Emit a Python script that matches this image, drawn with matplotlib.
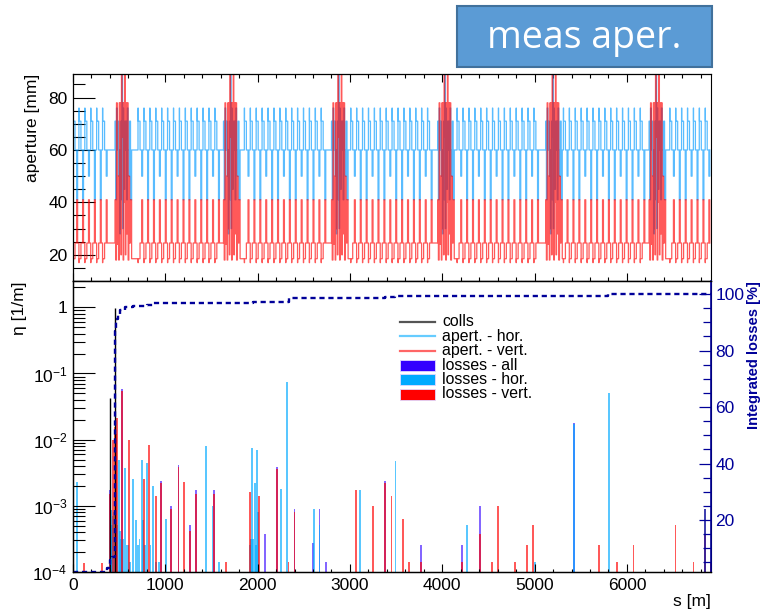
import numpy as np
import matplotlib
matplotlib.use('Agg')
import matplotlib.pyplot as plt
from matplotlib.patches import Rectangle
from matplotlib.lines import Line2D
from matplotlib.ticker import MultipleLocator, FixedLocator, FuncFormatter, NullFormatter

plt.rcParams['font.family'] = ['Liberation Sans', 'DejaVu Sans']
plt.rcParams['mathtext.fontset'] = 'custom'
plt.rcParams['mathtext.rm'] = 'Liberation Sans'
plt.rcParams['mathtext.it'] = 'Liberation Sans:italic'
plt.rcParams['mathtext.bf'] = 'Liberation Sans:bold'

# ---------------- aperture (top panel) ----------------
ring_length = 6911.0
cell_length = 64.0
lss_centres = [545, 1720, 2890, 4040, 5210, 6330]
lss_half = 100.0

# one regular cell, three variants (offset in cell [m], aperture [mm])
cell_off = [0, 2, 22, 40, 50]
cell_hor = [[76, 71, 60, 41, 60], [76, 71, 60, 41, 60], [76, 71, 60, 50, 60]]
cell_ver = [[17, 18.5, 24.5, 41, 24.5], [17, 18.5, 24.5, 41, 24.5], [17, 18.5, 24.5, 41, 24.5]]

# long straight section profile (offset from centre [m], aperture [mm])
lss_off = [-100, -90, -82, -74, -66, -58, -50, -44, -38, -32, -26, -20, -14, -8,
           -2, 4, 10, 16, 22, 28, 36, 44, 52, 60, 68, 78, 90]
lss_ver = [24.5, 41, 18, 78, 24, 50, 18, 78, 30, 78, 20, 95, 65, 78, 18, 78, 40,
           95, 20, 78, 28, 78, 18, 50, 24.5, 41, 18.5]
lss_hor = [60, 71, 41, 76, 60, 71, 50, 60, 28, 60, 71, 41, 95, 30, 76, 60, 45, 71,
           60, 71, 41, 76, 60, 50, 71, 41, 60]

# ---------------- losses (bottom panel) ----------------
coll_s = [400, 460]
coll_eta = [0.042, 0.98]

all_s = [400, 535, 954, 1066, 1143, 1268, 1333, 1529, 2080, 2213, 2400, 2600, 2670,
         2745, 3378, 3770, 4214, 4413, 5428]
all_eta = [1.7e-3, 0.058, 2.4e-3, 1.0e-3, 4.2e-3, 5e-4, 1.7e-3, 1.7e-3, 3.6e-4, 3.9e-3,
           9e-4, 2.6e-4, 9e-4, 1.3e-4, 2.4e-3, 2.5e-4, 2.5e-4, 1.0e-3, 1.8e-2]

hor_s = [40, 405, 415, 425, 435, 445, 470, 480, 495, 505, 520, 540, 564, 580, 600, 620,
         650, 680, 700, 720, 745, 760, 780, 798, 840, 871, 900, 930, 1005, 1442, 1511,
         1580, 1915, 1925, 1940, 1950, 1970, 1985, 1995, 2003, 2253, 2318, 2612, 2670,
         3113, 3494, 4268, 5000, 5428, 5808]
hor_eta = [2.3e-3, 6e-4, 8.5e-4, 5e-4, 7e-4, 8e-4, 6e-4, 5e-4, 4.9e-3, 4e-4, 3e-4,
           3e-4, 3.7e-3, 2.5e-4, 2.5e-4, 1.3e-4, 2.5e-3, 6e-4, 2.5e-4, 3e-4, 5e-3, 6e-4,
           2.5e-4, 4.5e-3, 2.5e-4, 2e-3, 1.3e-4, 1.3e-4, 6.3e-4, 8e-3, 1e-3, 1.3e-4,
           2.5e-4, 3e-4, 7.5e-3, 3e-4, 2.2e-3, 2.5e-4, 7e-3, 8e-4, 1.8e-3, 0.075, 9e-4,
           5e-4, 1.7e-3, 4.7e-3, 5e-4, 1.3e-4, 1.75e-2, 0.05]

ver_s = [122, 310, 400, 430, 455, 465, 477, 535, 607, 770, 823, 896, 954, 1066, 1143,
         1205, 1268, 1333, 1529, 1660, 1913, 2017, 2213, 2335, 2400, 3070, 3250, 3378,
         3450, 3575, 3643, 3770, 4214, 4413, 4539, 4604, 4790, 4921, 4986, 5700, 5895,
         6072, 6527, 6722, 6843, 6908]
ver_eta = [1.26e-4, 1.26e-4, 1.5e-3, 1e-2, 1.55e-2, 1.2e-2, 0.021, 0.055, 1e-2, 2.5e-3,
           8.3e-3, 1.4e-3, 2.2e-3, 9e-4, 3.9e-3, 2.3e-3, 4e-4, 1.5e-3, 1.5e-3, 1.3e-4,
           1.6e-3, 1.4e-3, 3.6e-3, 1.3e-4, 8e-4, 1.7e-3, 1e-3, 2.2e-3, 1.4e-3, 6.3e-4,
           1.3e-4, 1.3e-4, 1.3e-4, 3.6e-4, 1.3e-4, 1e-3, 1.3e-4, 2.5e-4, 5e-4, 2.5e-4,
           1.3e-4, 2.5e-4, 5e-4, 1.3e-4, 3.6e-4, 1.3e-4]

navy_s = [6843]
navy_eta = [9e-4]

# integrated losses [%]
cum_s = [0, 365, 385, 405, 425, 450, 456, 462, 470, 485, 510, 560, 650, 800, 870,
         1950, 2335, 3380, 3490, 5795, 6911]
cum_pct = [1.7, 3.0, 4.5, 6.0, 7.0, 30, 87, 89, 91, 92.5, 94.3, 95.4, 95.6, 96.2, 96.7,
           97.3, 98.7, 99.0, 99.3, 100.0, 100.0]


def build_aperture(cell_vals, lss_vals):
    s_list, a_list = [], []
    for k in range(int(ring_length // cell_length) + 1):
        s0 = k * cell_length
        if any(s0 + cell_length > c - lss_half and s0 < c + lss_half for c in lss_centres):
            continue
        s_list += [s0 + o for o in cell_off]
        a_list += cell_vals[k % len(cell_vals)]
    for c in lss_centres:
        s_list += [c + o for o in lss_off]
        a_list += lss_vals
    order = np.argsort(s_list)
    return np.array(s_list)[order], np.array(a_list)[order]


W, H = 762, 616
fig = plt.figure(figsize=(W / 100, H / 100), dpi=100)


def fx(x):
    return x / W


def fy(y):
    return 1 - y / H


ax1 = fig.add_axes([fx(73), fy(281), fx(711) - fx(73), fy(74) - fy(281)])
ax2 = fig.add_axes([fx(73), fy(572), fx(711) - fx(73), fy(281) - fy(572)])

# top panel
sh, ah = build_aperture(cell_hor, lss_hor)
sv, av = build_aperture(cell_ver, lss_ver)
ax1.plot(sh, ah, drawstyle='steps-post', color='#0099ff', alpha=0.65, lw=0.9)
ax1.plot(sv, av, drawstyle='steps-post', color='#ff0000', alpha=0.65, lw=0.9)
ax1.set_xlim(0, ring_length)
ax1.set_ylim(10, 89)
ax1.set_ylabel('aperture [mm]', fontsize=12.5, loc='top', labelpad=6)
ax1.yaxis.set_major_locator(MultipleLocator(20))
ax1.yaxis.set_minor_locator(MultipleLocator(5))
ax1.xaxis.set_major_locator(MultipleLocator(1000))
ax1.xaxis.set_minor_locator(MultipleLocator(200))
ax1.tick_params(axis='y', which='major', direction='in', length=16, width=0.8, labelsize=12.5, pad=4)
ax1.tick_params(axis='y', which='minor', direction='in', length=8.5, width=0.8)
ax1.tick_params(axis='x', which='major', direction='in', length=5.8, width=0.8, top=True, labelbottom=False)
ax1.tick_params(axis='x', which='minor', direction='in', length=3, width=0.8, top=True)

# bottom panel
bw = 20
ax2.bar(all_s, all_eta, width=bw, bottom=1e-5, color='#3300ff', alpha=0.6, lw=0)
ax2.bar(hor_s, hor_eta, width=bw, bottom=1e-5, color='#00aaff', alpha=0.65, lw=0)
ax2.bar(ver_s, ver_eta, width=bw, bottom=1e-5, color='#ff0000', alpha=0.65, lw=0)
ax2.vlines(coll_s, 1e-5, coll_eta, color='black', lw=1)
ax2.vlines(navy_s, 1e-5, navy_eta, color='#1a1aa0', lw=1.2)
ax2.set_yscale('log')
ax2.set_xlim(0, ring_length)
ax2.set_ylim(1e-4, 2.5)
ax2.xaxis.set_major_locator(MultipleLocator(1000))
ax2.xaxis.set_minor_locator(MultipleLocator(200))
ax2.yaxis.set_major_locator(FixedLocator([1e-4, 1e-3, 1e-2, 1e-1, 1]))
ax2.yaxis.set_minor_locator(FixedLocator([m * 10.0 ** e for e in range(-4, 1) for m in range(2, 10)]))
ax2.yaxis.set_minor_formatter(NullFormatter())
ax2.yaxis.set_major_formatter(FuncFormatter(
    lambda v, p: '1' if abs(v - 1) < 1e-9 else r'$10^{%d}$' % int(round(np.log10(v)))))
ax2.tick_params(axis='y', which='major', direction='in', length=16, width=0.8, labelsize=12.5, pad=4)
ax2.tick_params(axis='y', which='minor', direction='in', length=8.5, width=0.8)
ax2.tick_params(axis='x', which='major', direction='in', length=5.8, width=0.8, labelsize=12.5, pad=4)
ax2.tick_params(axis='x', which='minor', direction='in', length=2.5, width=0.8)
ax2.set_ylabel('\u03b7 [1/m]', fontsize=12.5, loc='top', labelpad=4)
ax2.set_xlabel('s [m]', fontsize=12.5, loc='right', labelpad=1)

navy = '#000099'
ax3 = ax2.twinx()
ax3.plot(cum_s, cum_pct, drawstyle='steps-post', color=navy, lw=1.7, ls=(0, (2.2, 1.6)))
ax3.set_ylim(1.6, 104.6)
ax3.set_xlim(0, ring_length)
ax3.yaxis.set_major_locator(FixedLocator([20, 40, 60, 80, 100]))
ax3.yaxis.set_minor_locator(MultipleLocator(5))
ax3.tick_params(axis='y', which='major', direction='in', length=9, width=0.9, colors=navy,
                labelsize=12.5, pad=3)
ax3.tick_params(axis='y', which='minor', direction='in', length=6, width=0.9, colors=navy)
ax3.spines['right'].set_color(navy)
ax3.spines['right'].set_linewidth(1.2)
ax3.set_ylabel('Integrated losses [%]', fontsize=10.5, fontweight='bold', color=navy,
               loc='top', labelpad=2)

for a in (ax1, ax2, ax3):
    for k in ('left', 'top', 'bottom'):
        a.spines[k].set_linewidth(0.9)

# legend drawn by hand in figure pixels
leg_items = [('colls', 'line', '#555555'),
             ('apert. - hor.', 'line', '#66ccff'),
             ('apert. - vert.', 'line', '#ff6666'),
             ('losses - all', 'box', '#3300ff'),
             ('losses - hor.', 'box', '#00aaff'),
             ('losses - vert.', 'box', '#ff0000')]
for i, (lab, kind, col) in enumerate(leg_items):
    yc = 322 + i * 14.4
    if kind == 'line':
        fig.add_artist(Line2D([fx(400), fx(435)], [fy(yc), fy(yc)], color=col, lw=1.6,
                              transform=fig.transFigure))
    else:
        fig.add_artist(Rectangle((fx(400), fy(yc + 5.5)), fx(435) - fx(400), fy(yc - 5.5) - fy(yc + 5.5),
                                 facecolor=col, edgecolor='#e0d8ff', lw=0.6, transform=fig.transFigure))
    fig.text(fx(442), fy(yc), lab, fontsize=11.4, va='center', ha='left')

# title box
fig.add_artist(Rectangle((fx(457), fy(67)), fx(712) - fx(457), fy(6) - fy(67),
                         facecolor='#5b9bd5', edgecolor='#41719c', lw=1.5,
                         transform=fig.transFigure))
fig.text(fx(584), fy(38), 'meas aper.', fontsize=27, color='white', ha='center', va='center',
         family=['Open Sans', 'DejaVu Sans'])

fig.savefig('out.png', dpi=100)
